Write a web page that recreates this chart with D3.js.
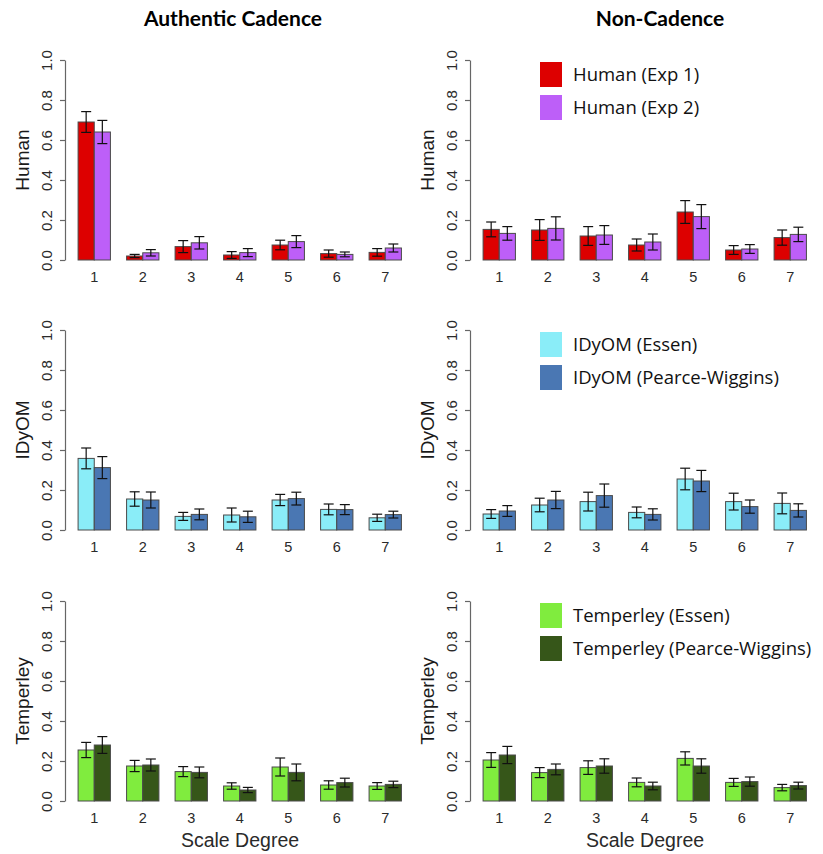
<!DOCTYPE html>
<html>
<head>
<meta charset="utf-8">
<script src="https://cdnjs.cloudflare.com/ajax/libs/d3/7.8.5/d3.min.js"></script>
<style>
  body { margin: 0; background: #fff; }
  svg { display: block; }
</style>
</head>
<body>
<div id="chart"></div>
<script>
(function () {
  var degrees = ['1', '2', '3', '4', '5', '6', '7'];
  var columnTitles = ['Authentic Cadence', 'Non-Cadence'];
  var rowTitles = ['Human', 'IDyOM', 'Temperley'];
  var yTicks = [0, 0.2, 0.4, 0.6, 0.8, 1.0];

  // Human
  var humanExp1Auth = [0.69, 0.02, 0.067, 0.025, 0.075, 0.032, 0.038];
  var humanExp1AuthErr = [0.052, 0.008, 0.03, 0.017, 0.024, 0.018, 0.019];
  var humanExp2Auth = [0.64, 0.036, 0.086, 0.037, 0.092, 0.028, 0.06];
  var humanExp2AuthErr = [0.058, 0.016, 0.031, 0.02, 0.03, 0.012, 0.02];
  var humanExp1Non = [0.153, 0.15, 0.12, 0.075, 0.24, 0.05, 0.112];
  var humanExp1NonErr = [0.037, 0.052, 0.047, 0.03, 0.057, 0.022, 0.038];
  var humanExp2Non = [0.133, 0.158, 0.125, 0.09, 0.217, 0.055, 0.128];
  var humanExp2NonErr = [0.034, 0.058, 0.047, 0.04, 0.06, 0.022, 0.036];

  // IDyOM
  var idyomEssenAuth = [0.358, 0.155, 0.068, 0.075, 0.15, 0.103, 0.061];
  var idyomEssenAuthErr = [0.052, 0.036, 0.02, 0.035, 0.028, 0.027, 0.018];
  var idyomPWAuth = [0.312, 0.15, 0.078, 0.066, 0.157, 0.102, 0.077];
  var idyomPWAuthErr = [0.055, 0.04, 0.027, 0.028, 0.032, 0.025, 0.017];
  var idyomEssenNon = [0.08, 0.125, 0.142, 0.088, 0.255, 0.142, 0.133];
  var idyomEssenNonErr = [0.022, 0.034, 0.047, 0.027, 0.054, 0.042, 0.052];
  var idyomPWNon = [0.095, 0.15, 0.172, 0.078, 0.245, 0.117, 0.098];
  var idyomPWNonErr = [0.027, 0.043, 0.058, 0.028, 0.053, 0.033, 0.033];

  // Temperley
  var tempEssenAuth = [0.255, 0.175, 0.147, 0.075, 0.17, 0.08, 0.075];
  var tempEssenAuthErr = [0.038, 0.028, 0.025, 0.016, 0.045, 0.021, 0.017];
  var tempPWAuth = [0.28, 0.18, 0.143, 0.055, 0.143, 0.092, 0.083];
  var tempPWAuthErr = [0.042, 0.03, 0.027, 0.013, 0.042, 0.022, 0.016];
  var tempEssenNon = [0.205, 0.142, 0.167, 0.093, 0.213, 0.093, 0.067];
  var tempEssenNonErr = [0.037, 0.025, 0.034, 0.022, 0.033, 0.02, 0.016];
  var tempPWNon = [0.23, 0.158, 0.175, 0.075, 0.175, 0.097, 0.077];
  var tempPWNonErr = [0.043, 0.027, 0.036, 0.019, 0.036, 0.023, 0.017];

  var legendLabels = [
    ['Human (Exp 1)', 'Human (Exp 2)'],
    ['IDyOM (Essen)', 'IDyOM (Pearce-Wiggins)'],
    ['Temperley (Essen)', 'Temperley (Pearce-Wiggins)']
  ];
  var rowColors = [
    ['#dd0000', '#bd5ff8'],
    ['#8aedf8', '#4a77b3'],
    ['#80ec3e', '#365619']
  ];

  var rows = [
    [[humanExp1Auth, humanExp1AuthErr, humanExp2Auth, humanExp2AuthErr],
     [humanExp1Non, humanExp1NonErr, humanExp2Non, humanExp2NonErr]],
    [[idyomEssenAuth, idyomEssenAuthErr, idyomPWAuth, idyomPWAuthErr],
     [idyomEssenNon, idyomEssenNonErr, idyomPWNon, idyomPWNonErr]],
    [[tempEssenAuth, tempEssenAuthErr, tempPWAuth, tempPWAuthErr],
     [tempEssenNon, tempEssenNonErr, tempPWNon, tempPWNonErr]]
  ];

  var width = 823, height = 854;
  var colX = [65, 470];
  var titleX = [233, 660];
  var rowTop = [60, 330, 601];
  var panelH = 200;
  var axisFont = '"Liberation Sans", Arial, sans-serif';

  var svg = d3.select('#chart').append('svg')
    .attr('width', width)
    .attr('height', height);

  columnTitles.forEach(function (t, c) {
    svg.append('text')
      .attr('x', titleX[c])
      .attr('y', 26)
      .attr('text-anchor', 'middle')
      .style('font-family', 'Lato, "Open Sans", sans-serif')
      .style('font-weight', 'bold')
      .style('font-size', '21px')
      .text(t);
  });

  rows.forEach(function (row, r) {
    row.forEach(function (cell, c) {
      var ax = colX[c];
      var top = rowTop[r];
      var g = svg.append('g');

      var y = d3.scaleLinear().domain([0, 1]).range([top + panelH, top]);
      var x0 = d3.scaleBand().domain(degrees)
        .range([ax + 5, ax + 344.5])
        .paddingInner(1 / 3)
        .paddingOuter(1 / 6);
      var x1 = d3.scaleBand().domain([0, 1]).range([0, x0.bandwidth()]);

      var yAxis = d3.axisLeft(y)
        .tickValues(yTicks)
        .tickFormat(d3.format('.1f'))
        .tickSize(5)
        .tickSizeOuter(0);
      var axG = g.append('g')
        .attr('transform', 'translate(' + ax + ',0)')
        .call(yAxis);
      axG.selectAll('path, line').attr('stroke', '#666').attr('stroke-width', 1.2);
      axG.selectAll('text')
        .attr('transform', 'rotate(-90)')
        .attr('x', 0)
        .attr('y', -13)
        .attr('dy', 0)
        .attr('text-anchor', 'middle')
        .attr('fill', '#2a2a2a')
        .style('font-family', axisFont)
        .style('font-size', '15px');

      g.append('text')
        .attr('transform', 'translate(' + (ax - 43) + ',' + (top + panelH / 2) + ') rotate(-90)')
        .attr('dy', '0.35em')
        .attr('text-anchor', 'middle')
        .attr('fill', '#1a1a1a')
        .style('font-family', axisFont)
        .style('font-size', '19px')
        .text(rowTitles[r]);

      g.selectAll('.xlab').data(degrees).enter().append('text')
        .attr('class', 'xlab')
        .attr('x', function (d) { return x0(d) + x0.bandwidth() / 2; })
        .attr('y', top + panelH + 22)
        .attr('text-anchor', 'middle')
        .attr('fill', '#2a2a2a')
        .style('font-family', axisFont)
        .style('font-size', '14.5px')
        .text(function (d) { return d; });

      if (r === 2) {
        g.append('text')
          .attr('x', ax + 175)
          .attr('y', top + panelH + 46)
          .attr('text-anchor', 'middle')
          .attr('fill', '#2a2a2a')
          .style('font-family', axisFont)
          .style('font-size', '19.5px')
          .text('Scale Degree');
      }

      [0, 1].forEach(function (s) {
        var vals = cell[s * 2];
        var errs = cell[s * 2 + 1];
        var data = degrees.map(function (d, i) { return { deg: d, v: vals[i], e: errs[i] }; });

        g.selectAll('.bar' + s).data(data).enter().append('rect')
          .attr('class', 'bar' + s)
          .attr('x', function (d) { return x0(d.deg) + x1(s); })
          .attr('y', function (d) { return y(d.v); })
          .attr('width', x1.bandwidth())
          .attr('height', function (d) { return y(0) - y(d.v); })
          .attr('fill', rowColors[r][s])
          .attr('stroke', '#4a4a4a')
          .attr('stroke-width', 1);

        var eb = g.selectAll('.err' + s).data(data).enter().append('g')
          .attr('class', 'err' + s)
          .attr('stroke', '#111')
          .attr('stroke-width', 1.2);
        var cx = function (d) { return x0(d.deg) + x1(s) + x1.bandwidth() / 2; };
        eb.append('line')
          .attr('x1', cx).attr('x2', cx)
          .attr('y1', function (d) { return y(d.v + d.e); })
          .attr('y2', function (d) { return y(d.v - d.e); });
        eb.append('line')
          .attr('x1', function (d) { return cx(d) - 5; })
          .attr('x2', function (d) { return cx(d) + 5; })
          .attr('y1', function (d) { return y(d.v + d.e); })
          .attr('y2', function (d) { return y(d.v + d.e); });
        eb.append('line')
          .attr('x1', function (d) { return cx(d) - 5; })
          .attr('x2', function (d) { return cx(d) + 5; })
          .attr('y1', function (d) { return y(d.v - d.e); })
          .attr('y2', function (d) { return y(d.v - d.e); });
      });

      if (c === 1) {
        legendLabels[r].forEach(function (lab, s) {
          var ly = top + 2 + s * 33;
          g.append('rect')
            .attr('x', ax + 70)
            .attr('y', ly)
            .attr('width', 22)
            .attr('height', 25)
            .attr('fill', rowColors[r][s]);
          g.append('text')
            .attr('x', ax + 103)
            .attr('y', ly + 12.5)
            .attr('dy', '0.35em')
            .attr('fill', '#111')
            .style('font-family', '"Open Sans", sans-serif')
            .style('font-size', '18.5px')
            .text(lab);
        });
      }
    });
  });
})();
</script>
</body>
</html>
